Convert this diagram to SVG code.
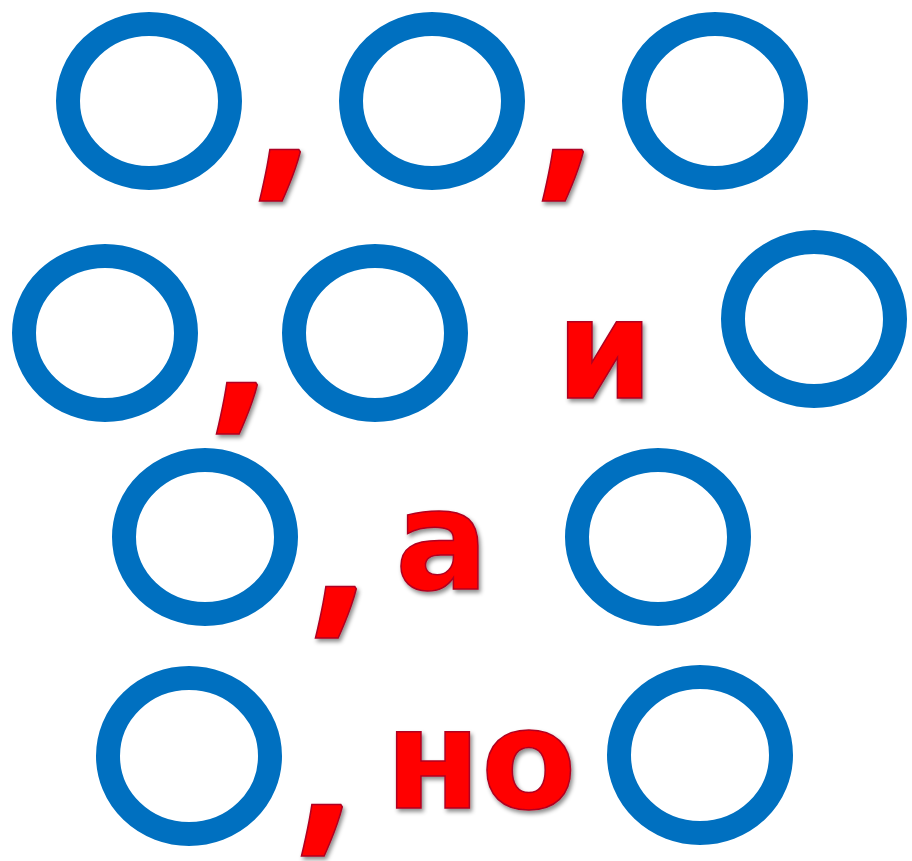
<svg xmlns="http://www.w3.org/2000/svg" width="912" height="861" viewBox="0 0 912 861">
<defs>
<filter id="sh" x="-20%" y="-20%" width="150%" height="150%">
<feDropShadow dx="2" dy="3" stdDeviation="2" flood-color="#000" flood-opacity="0.45"/>
</filter>
<style>
.ring{fill:none;stroke:#0070C0;stroke-width:24}
.t{font-family:"DejaVu Sans",Verdana,sans-serif;font-weight:bold;font-size:139px;fill:#FF0000;stroke:#B00020;stroke-width:1.5;filter:url(#sh)}
.c{font-family:"Open Sans","Noto Sans",sans-serif;font-weight:bold;font-size:211px;fill:#FF0000;stroke:#B00020;stroke-width:1.5;filter:url(#sh)}
</style>
</defs>
<rect width="912" height="861" fill="#fff"/>
<g id="rings">
<g id="r1"><ellipse class="ring" cx="149" cy="101" rx="81" ry="77"/></g>
<g id="r2"><ellipse class="ring" cx="432" cy="101" rx="81" ry="77"/></g>
<g id="r3"><ellipse class="ring" cx="715" cy="101" rx="81" ry="77"/></g>
<g id="r4"><ellipse class="ring" cx="105" cy="333" rx="81" ry="77"/></g>
<g id="r5"><ellipse class="ring" cx="375" cy="333" rx="81" ry="77"/></g>
<g id="r6"><ellipse class="ring" cx="814" cy="319" rx="81" ry="77"/></g>
<g id="r7"><ellipse class="ring" cx="205" cy="537" rx="81" ry="77"/></g>
<g id="r8"><ellipse class="ring" cx="658" cy="537" rx="81" ry="77"/></g>
<g id="r9"><ellipse class="ring" cx="189" cy="756" rx="81" ry="78"/></g>
<g id="r10"><ellipse class="ring" cx="700" cy="755" rx="81" ry="78"/></g>
</g>
<g id="words">
<text class="c" x="253" y="174">,</text>
<text class="c" x="536" y="174">,</text>
<text class="c" x="210" y="407">,</text>
<text class="c" x="309" y="611">,</text>
<text class="c" x="295" y="829">,</text>
<text class="t" x="556" y="398">и</text>
<text class="t" x="395" y="589">а</text>
<text class="t" x="385" y="808">но</text>
</g>
</svg>
